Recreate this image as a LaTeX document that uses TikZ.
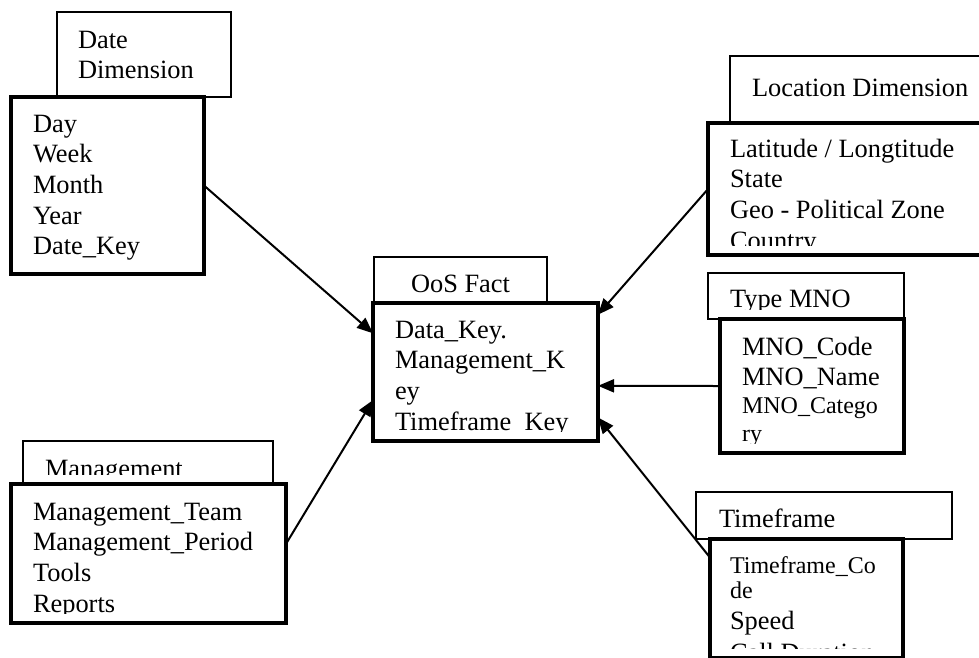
\documentclass[tikz,border=0pt]{standalone}
\usepackage{fontspec}
\setmainfont{Liberation Serif}
\usetikzlibrary{arrows.meta}

\newcommand{\bigfs}{\fontsize{26.4}{30.7}\selectfont}
\newcommand{\smallfs}{\fontsize{24}{27.6}\selectfont}

\begin{document}
\begin{tikzpicture}[x=1pt,y=-1pt,
  head/.style={draw,line width=2pt,fill=white,anchor=north west,inner sep=0pt,outer sep=0pt},
  tbl/.style={draw,line width=3.3pt,fill=white,anchor=north west,inner sep=0pt,outer sep=0pt},
  fields/.style n args={3}{path picture={
    \clip ([shift={(5pt,-5pt)}]path picture bounding box.north west)
      rectangle ([shift={(-5pt,10pt)}]path picture bounding box.south east);
    \node[anchor=base west,inner sep=0pt,minimum width=0pt,minimum height=0pt,font=\bigfs]
      at ([shift={(#1pt,-#2pt)}]path picture bounding box.north west)
      {\begin{tabular}[t]{@{}l@{}}#3\end{tabular}};}},
  link/.style={line width=2pt,-{Triangle[length=16pt,width=13pt]}}]
\useasboundingbox (0,0) rectangle (979,657);

% date dimension
\node[head,minimum width=174pt,minimum height=85pt,
  fields={21}{36}{Date\\Dimension}] (datehead) at (57,12) {};
\node[tbl,minimum width=193pt,minimum height=177pt,
  fields={22}{35}{Day\\Week\\Month\\Year\\Date\_Key}] (datemain) at (11,97) {};

% location dimension
\node[head,minimum width=260pt,minimum height=67pt,
  fields={22}{40}{Location Dimension}] (lochead) at (730,56) {};
\node[tbl,minimum width=282pt,minimum height=132pt,
  fields={22}{34}{Latitude / Longtitude\\State\\Geo - Political Zone\\Country}] (locmain) at (708,123) {};

% fact table
\node[head,minimum width=173pt,minimum height=46pt,
  fields={37}{35}{OoS Fact}] (ooshead) at (374,257) {};
\node[tbl,minimum width=225pt,minimum height=138pt,
  fields={22}{35}{Data\_Key.\\Management\_K\\ey\\Timeframe\_Key}] (oosmain) at (373,303) {};

% type mno
\node[head,minimum width=196pt,minimum height=46pt,
  fields={22}{34}{Type MNO}] (mnohead) at (708,273) {};
\node[tbl,minimum width=184pt,minimum height=134pt,
  fields={22}{36}{MNO\_Code\\MNO\_Name\\[-3pt]\smallfs MNO\_Catego\\[-3pt]\smallfs ry}] (mnomain) at (720,319) {};

% management
\node[head,minimum width=250pt,minimum height=43pt,
  fields={22}{36}{Management}] (mgmthead) at (23,441) {};
\node[tbl,minimum width=275pt,minimum height=139pt,
  fields={22}{36}{Management\_Team\\Management\_Period\\Tools\\Reports}] (mgmtmain) at (11,484) {};

% timeframe
\node[head,minimum width=256pt,minimum height=47pt,
  fields={23}{35}{Timeframe}] (timehead) at (696,492) {};
\node[tbl,minimum width=193pt,minimum height=119pt,
  fields={20}{34}{\smallfs Timeframe\_Co\\[-5pt]\smallfs de\\Speed\\[1pt]Call Duration}] (timemain) at (710,539) {};

\draw[link] (datemain.east) -- (oosmain.161.9);
\draw[link] (mgmtmain.4.4) -- (oosmain.194.8);
\draw[link] (locmain.west) -- (oosmain.27.7);
\draw[link] (mnomain.west) -- (oosmain.-7.1);
\draw[link] (timemain.157.4) -- (oosmain.-22.2);
\end{tikzpicture}
\end{document}
